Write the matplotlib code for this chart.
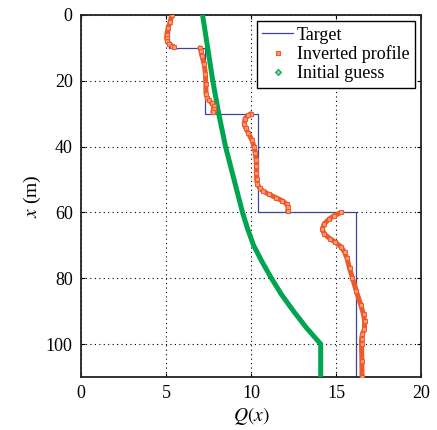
import numpy as np
import matplotlib
matplotlib.use("Agg")
import matplotlib.pyplot as plt
from matplotlib.lines import Line2D

plt.rcParams['font.family'] = ['Liberation Serif', 'DejaVu Serif']
plt.rcParams['mathtext.fontset'] = 'stix'
plt.rcParams['font.size'] = 13

# target: layered profile
layer_top = [0, 10, 30, 60]
layer_bot = [10, 30, 60, 110]
target_q = [5.2, 7.3, 10.4, 16.2]

# inverted profile, one piece per layer
inv_depth = [
    [0, 2, 4, 6, 7, 8, 8.8, 9.4, 9.8],
    [10, 11, 12.6, 15, 18, 21, 24, 25.1, 26, 26.8, 27.6, 28.5, 29.5],
    [30, 30.5, 31.5, 33, 34.5, 36, 38, 40, 42, 44, 46, 48, 50, 51.5, 52.5,
     53.5, 54.5, 55.5, 56.5, 57.5, 58.5, 59.5],
    [60, 61, 62, 63.5, 65, 66.5, 68, 69, 70.5, 72, 74, 77, 80, 84, 88, 91,
     93, 95.5, 97, 98.5, 100, 105, 110],
]
inv_q = [
    [5.35, 5.25, 5.12, 5.05, 5.03, 5.08, 5.2, 5.35, 5.45],
    [7.0, 7.05, 7.12, 7.25, 7.32, 7.34, 7.35, 7.42, 7.55, 7.68, 7.8, 7.8, 7.75],
    [10.0, 9.85, 9.65, 9.6, 9.7, 9.85, 10.05, 10.18, 10.25, 10.3, 10.32,
     10.32, 10.33, 10.38, 10.5, 10.7, 11.05, 11.45, 11.85, 12.1, 12.2, 12.15],
    [15.3, 14.9, 14.6, 14.3, 14.2, 14.3, 14.65, 14.95, 15.3, 15.5, 15.65,
     15.8, 15.97, 16.2, 16.45, 16.62, 16.68, 16.67, 16.55, 16.5, 16.5,
     16.52, 16.53],
]

# initial guess
guess_depth = [0, 10, 20, 30, 40, 50, 60, 65, 70, 75, 80, 85, 90, 95, 100, 110]
guess_q = [7.15, 7.45, 7.75, 8.1, 8.5, 9.0, 9.5, 9.8, 10.15, 10.65, 11.2, 11.8,
           12.5, 13.25, 14.1, 14.1]

c_target = '#3b44a0'
c_inv = '#f05a28'
c_guess = '#00a550'

fig = plt.figure(figsize=(4.37, 4.30), dpi=100)
ax = fig.add_axes([0.1854, 0.1233, 0.778, 0.842])

ty = np.column_stack([layer_top, layer_bot]).ravel()
tx = np.repeat(target_q, 2)
ax.plot(tx, ty, color=c_target, lw=0.9, zorder=2)

ax.plot(guess_q, guess_depth, color=c_guess, lw=3.6, zorder=3)

for d, q in zip(inv_depth, inv_q):
    ax.plot(q, d, color=c_inv, lw=3.6, zorder=4, solid_capstyle='round')
    ax.plot(q, d, ls='none', marker='s', ms=3.0, mfc='#f89a78',
            mec=c_inv, mew=0.7, zorder=5)

ax.set_xlim(0, 20)
ax.set_ylim(110, 0)
ax.set_xticks([0, 5, 10, 15, 20])
ax.set_yticks([0, 20, 40, 60, 80, 100])
ax.tick_params(direction='in', length=3, top=True, right=True, width=0.8,
               labelsize=13, pad=6)
ax.grid(True, ls=(0, (1, 3)), color='black', lw=0.8)
for s in ax.spines.values():
    s.set_linewidth(1.3)
    s.set_color('#222222')

ax.set_xlabel('$Q(x)$', fontsize=14, labelpad=2)
ax.set_ylabel('$x$ (m)', fontsize=14, labelpad=2)

handles = [
    Line2D([], [], color=c_target, lw=0.9),
    Line2D([], [], ls='none', marker='s', ms=3, mfc='#f89a78', mec=c_inv, mew=0.8),
    Line2D([], [], ls='none', marker='D', ms=3, mfc='#80d2a8', mec=c_guess, mew=0.8),
]
leg = ax.legend(handles, ['Target', 'Inverted profile', 'Initial guess'],
                loc='upper right', fancybox=False, framealpha=1, edgecolor='black',
                fontsize=13, borderpad=0.3, labelspacing=0.1, handlelength=1.7,
                handletextpad=0.2, borderaxespad=0.35)
leg.get_frame().set_linewidth(1.0)

fig.savefig('out.png', dpi=100)
